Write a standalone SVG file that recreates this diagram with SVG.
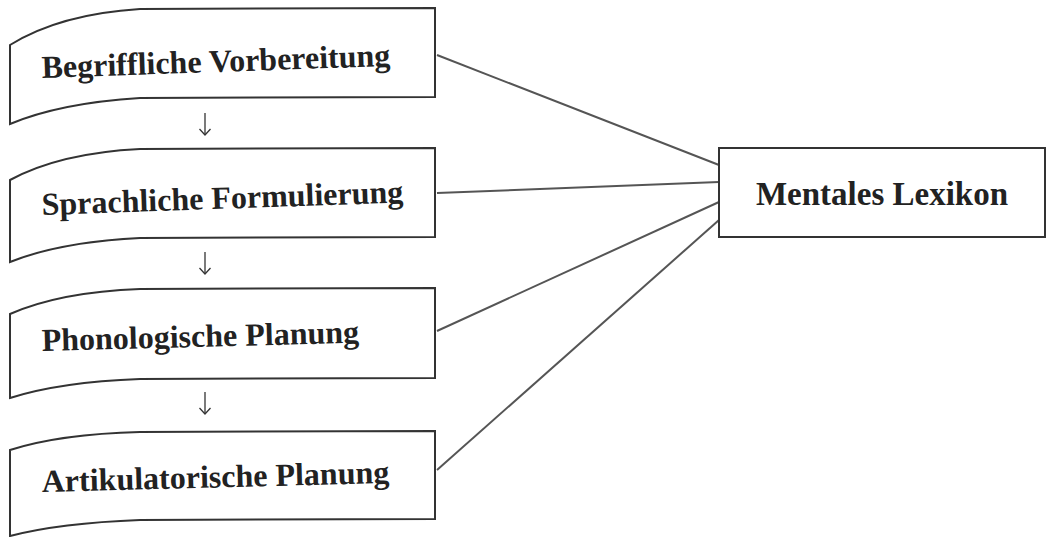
<svg xmlns="http://www.w3.org/2000/svg" width="1046" height="537" viewBox="0 0 1046 537">
<defs>
<marker id="open" viewBox="0 0 12 12" refX="6" refY="11" markerWidth="12" markerHeight="12" markerUnits="userSpaceOnUse" orient="0">
<path d="M0.5,5 L6,11 L11.5,5" fill="none" stroke="#333" stroke-width="1.3"/>
</marker>
</defs>
<style>
.box{fill:#fff;stroke:#333;stroke-width:2}
.lbl{font-family:"Liberation Serif","Times New Roman",serif;font-weight:bold;font-size:32px;fill:#222}
.con{stroke:#555;stroke-width:2;fill:none}
.arr{stroke:#333;stroke-width:1.3;fill:none}
</style>
<rect width="1046" height="537" fill="#fff"/>
<g id="connectors">
<line class="con" x1="437" y1="55" x2="719" y2="165"/>
<line class="con" x1="437" y1="193" x2="719" y2="182"/>
<line class="con" x1="437" y1="331" x2="719" y2="202"/>
<line class="con" x1="437" y1="470" x2="719" y2="220"/>
<line class="arr" x1="205" y1="113" x2="205" y2="135" marker-end="url(#open)"/>
<line class="arr" x1="205" y1="252" x2="205" y2="274" marker-end="url(#open)"/>
<line class="arr" x1="205" y1="392" x2="205" y2="414" marker-end="url(#open)"/>
</g>
<g id="begriffliche">
<path class="box" d="M10,45 Q60,14 140,9 L435,8 L435,97 L140,98 Q60,103 10,124 Z"/>
<text class="lbl" x="42" y="78" transform="rotate(-2 42 78)">Begriffliche Vorbereitung</text>
</g>
<g id="sprachliche">
<path class="box" d="M10,180 Q60,153 140,149 L435,148 L435,237 L140,238 Q60,242 10,262 Z"/>
<text class="lbl" x="42" y="215" transform="rotate(-2 42 215)">Sprachliche Formulierung</text>
</g>
<g id="phonologische">
<path class="box" d="M10,314 Q60,292 140,289 L435,288 L435,378 L140,379 Q60,382 10,398 Z"/>
<text class="lbl" x="42" y="351" transform="rotate(-1.5 42 351)">Phonologische Planung</text>
</g>
<g id="artikulatorische">
<path class="box" d="M10,450 Q60,434 140,432 L435,431 L435,519 L140,520 Q60,523 10,536 Z"/>
<text class="lbl" x="42" y="492" transform="rotate(-1.5 42 492)">Artikulatorische Planung</text>
</g>
<g id="lexikon">
<rect class="box" x="719" y="148" width="326" height="89"/>
<text class="lbl" x="882" y="205" text-anchor="middle" style="font-size:33px">Mentales Lexikon</text>
</g>
</svg>
